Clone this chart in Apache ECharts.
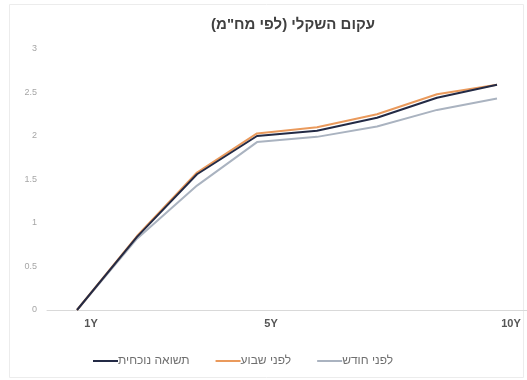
<!DOCTYPE html>
<html>
<head>
<meta charset="utf-8">
<script src="https://cdn.jsdelivr.net/npm/echarts@6/dist/echarts.min.js"></script>
<style>
  html, body { margin: 0; padding: 0; background: #ffffff; }
  #chart { width: 527px; height: 380px; }
</style>
</head>
<body>
<div id="chart"></div>
<script>
// Shekel yield curve by duration: current vs. one week ago vs. one month ago
const tickLabels = ['1Y', '', '', '5Y', '', '', '', '10Y'];

const seriesNames = ['תשואה נוכחית', 'לפני שבוע', 'לפני חודש'];
const currentYield = [0.00, 0.84, 1.56, 2.00, 2.06, 2.21, 2.44, 2.59];
const weekAgoYield = [0.00, 0.85, 1.58, 2.03, 2.10, 2.25, 2.48, 2.59];
const monthAgoYield = [0.00, 0.82, 1.43, 1.93, 1.99, 2.11, 2.30, 2.43];

const yTicks = { min: 0, max: 3, interval: 0.5 };

const colors = ['#232a45', '#ea9a5c', '#aab3c0'];
const font = "'Liberation Sans', 'DejaVu Sans', Arial, sans-serif";

const chart = echarts.init(document.getElementById('chart'), null, { renderer: 'canvas' });

const lineSeries = [currentYield, weekAgoYield, monthAgoYield].map((data, i) => ({
  name: seriesNames[i],
  type: 'line',
  data: data,
  symbol: 'none',
  smooth: false,
  lineStyle: { color: colors[i], width: 2 },
  itemStyle: { color: colors[i] },
  z: 3 - i
}));

chart.setOption({
  animation: false,
  backgroundColor: '#ffffff',
  textStyle: { fontFamily: font },
  graphic: [{
    type: 'rect',
    shape: { x: 9.5, y: 4.5, width: 514, height: 373 },
    style: { fill: 'none', stroke: '#ececec', lineWidth: 1 },
    silent: true
  }],
  title: {
    text: 'עקום השקלי (לפי מח"מ)',
    left: 288,
    top: 12,
    textAlign: 'center',
    textStyle: { fontFamily: font, fontSize: 15, fontWeight: 'bold', color: '#404040' }
  },
  legend: {
    data: seriesNames,
    left: 88,
    top: 350,
    icon: 'rect',
    itemWidth: 25,
    itemHeight: 2,
    itemGap: 26,
    textStyle: { fontFamily: font, fontSize: 12, color: '#6f6f6f', padding: [0, 0, 0, -5] }
  },
  grid: { left: 47, right: 0, top: 49, bottom: 70, containLabel: false },
  xAxis: {
    type: 'category',
    data: tickLabels,
    boundaryGap: true,
    axisLine: { show: true, lineStyle: { color: '#d9d9d9', width: 1 } },
    axisTick: { show: false },
    axisLabel: {
      interval: 0,
      margin: 8,
      fontSize: 11,
      fontWeight: 'bold',
      color: '#555555',
      padding: [0, 0, 0, 28]
    },
    splitLine: { show: false }
  },
  yAxis: {
    type: 'value',
    min: yTicks.min,
    max: yTicks.max,
    interval: yTicks.interval,
    axisLine: { show: false },
    axisTick: { show: false },
    splitLine: { show: false },
    axisLabel: { fontSize: 9, color: '#a6a6a6', margin: 10 }
  },
  series: lineSeries
});
</script>
</body>
</html>
